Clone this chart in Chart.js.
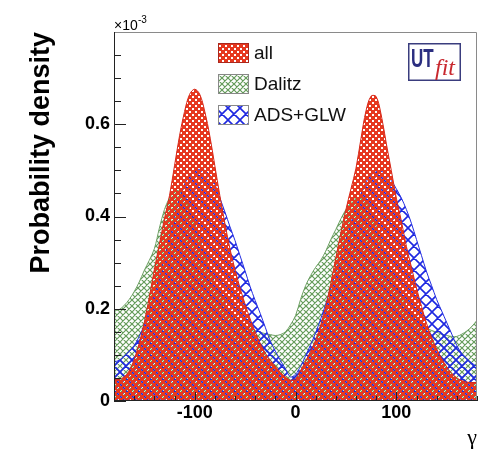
<!DOCTYPE html>
<html><head><meta charset="utf-8">
<script src="https://cdn.jsdelivr.net/npm/chart.js@4.4.1/dist/chart.umd.min.js"></script>
<style>html,body{margin:0;padding:0;background:#fff}canvas{display:block}</style>
</head><body>
<canvas id="c" width="490" height="456"></canvas>
<script>
// gamma (degrees)
const gamma = [-180,-175,-170,-165,-160,-155,-150,-145,-140,-135,-130,-125,-120,-115,-110,-105,-100,-95,-90,-85,-80,-75,-70,-65,-60,-55,-50,-45,-40,-35,-30,-25,-20,-15,-10,-5,0,5,10,15,20,25,30,35,40,45,50,55,60,65,70,75,80,85,90,95,100,105,110,115,120,125,130,135,140,145,150,155,160,165,170,175,180];
// probability density, units of 1e-3
const allValues = [0.046,0.047,0.052,0.065,0.090,0.125,0.170,0.225,0.285,0.340,0.395,0.445,0.510,0.575,0.628,0.665,0.676,0.665,0.628,0.575,0.510,0.445,0.385,0.330,0.285,0.245,0.210,0.178,0.150,0.125,0.104,0.088,0.075,0.062,0.052,0.045,0.048,0.066,0.086,0.108,0.132,0.165,0.205,0.255,0.310,0.365,0.415,0.460,0.505,0.570,0.630,0.661,0.660,0.620,0.559,0.500,0.440,0.390,0.335,0.290,0.245,0.205,0.168,0.138,0.113,0.092,0.074,0.060,0.050,0.044,0.041,0.040,0.040];
const dalitzValues = [0.195,0.198,0.207,0.220,0.237,0.258,0.283,0.305,0.330,0.375,0.415,0.440,0.455,0.455,0.440,0.415,0.385,0.350,0.315,0.285,0.255,0.230,0.210,0.195,0.182,0.172,0.164,0.158,0.153,0.149,0.146,0.144,0.142,0.144,0.150,0.165,0.185,0.220,0.250,0.272,0.290,0.305,0.325,0.350,0.372,0.395,0.415,0.430,0.440,0.440,0.430,0.410,0.380,0.345,0.310,0.278,0.250,0.225,0.205,0.188,0.175,0.165,0.158,0.153,0.149,0.145,0.142,0.140,0.140,0.145,0.152,0.162,0.175];
const adsGlwValues = [0.085,0.088,0.097,0.108,0.120,0.140,0.165,0.195,0.230,0.270,0.310,0.355,0.400,0.440,0.470,0.490,0.500,0.502,0.500,0.490,0.470,0.440,0.410,0.378,0.348,0.315,0.282,0.248,0.218,0.190,0.160,0.130,0.108,0.088,0.070,0.052,0.058,0.075,0.098,0.122,0.148,0.178,0.210,0.245,0.280,0.315,0.350,0.385,0.420,0.450,0.475,0.490,0.497,0.498,0.492,0.478,0.460,0.440,0.415,0.385,0.350,0.315,0.280,0.250,0.220,0.195,0.170,0.145,0.120,0.103,0.092,0.082,0.075];
const seriesLabels = ['all','Dalitz','ADS+GLW'];
const xTickValues = [-100,0,100];
const xMinorTicks = [-180,-160,-140,-120,-80,-60,-40,-20,20,40,60,80,120,140,160,180];
const yTickValues = [0,0.2,0.4,0.6];
const yMinorTicks = [0.05,0.1,0.15,0.25,0.3,0.35,0.45,0.5,0.55,0.65,0.7,0.75];

const cv = document.getElementById('c');
const ctx = cv.getContext('2d');
function makePattern(size, draw){
  const t = document.createElement('canvas'); t.width = t.height = size;
  const g = t.getContext('2d'); draw(g, size);
  return ctx.createPattern(t, 'repeat');
}
function crossHatch(color, lw){
  return (g, s) => {
    g.strokeStyle = color; g.lineWidth = lw; g.beginPath();
    for (let k = -1; k <= 1; k++) {
      g.moveTo(k*s - 2, -2); g.lineTo(k*s + s + 2, s + 2);
      g.moveTo(k*s + s + 2, -2); g.lineTo(k*s - 2, s + 2);
    }
    g.stroke();
  };
}
const redPat = makePattern(6, (g, s) => {
  g.fillStyle = '#e6381f'; g.fillRect(0, 0, s, s);
  g.clearRect(0, 0, 2, 2); g.clearRect(3, 3, 2, 2);
});
const greenPat = makePattern(6, crossHatch('rgb(100,155,90)', 1.2));
const bluePat = makePattern(12, crossHatch('rgb(30,40,225)', 1.6));

const seriesValues = [allValues, dalitzValues, adsGlwValues];
const fills = [redPat, greenPat, bluePat];
const borders = ['rgb(215,40,25)', 'rgb(110,160,100)', 'rgb(35,45,225)'];
const drawOrder = [0, 2, 1];

const datasets = seriesLabels.map((lab, i) => ({
  label: lab,
  data: gamma.map((g, j) => ({x: g, y: seriesValues[i][j]})),
  backgroundColor: fills[i],
  borderColor: borders[i],
  borderWidth: 1,
  fill: 'origin',
  order: drawOrder[i],
  pointRadius: 0,
  tension: 0.35
}));

const FONT = 'Liberation Sans';
const decor = {
  id: 'decor',
  afterDraw(chart){
    const {ctx, chartArea: a, scales: {x, y}} = chart;
    ctx.save();
    // frame
    ctx.lineWidth = 1;
    ctx.strokeStyle = '#8a8a8a';
    ctx.beginPath(); ctx.moveTo(a.left, a.top + 0.5); ctx.lineTo(a.right - 0.5, a.top + 0.5); ctx.lineTo(a.right - 0.5, a.bottom); ctx.stroke();
    ctx.strokeStyle = '#222';
    ctx.beginPath(); ctx.moveTo(a.left + 0.5, a.top); ctx.lineTo(a.left + 0.5, a.bottom - 0.5); ctx.lineTo(a.right, a.bottom - 0.5); ctx.stroke();
    // ticks (inward)
    ctx.strokeStyle = '#222';
    ctx.beginPath();
    yTickValues.concat(yMinorTicks).forEach(v => {
      const py = Math.round(y.getPixelForValue(v)) + 0.5;
      const len = yTickValues.includes(v) ? 12 : 7;
      ctx.moveTo(a.left, py); ctx.lineTo(a.left + len, py);
    });
    xTickValues.concat(xMinorTicks).forEach(v => {
      const px = Math.round(x.getPixelForValue(v)) + 0.5;
      const len = xTickValues.includes(v) ? 9 : 5;
      ctx.moveTo(px, a.bottom); ctx.lineTo(px, a.bottom - len);
    });
    ctx.stroke();
    // exponent
    ctx.fillStyle = '#000'; ctx.textBaseline = 'alphabetic'; ctx.textAlign = 'left';
    ctx.font = '14px ' + FONT; ctx.fillText('\u00d710', a.left, 30);
    ctx.font = '10px ' + FONT; ctx.fillText('-3', a.left + 24, 23);
    // legend
    const boxX = 218, boxW = 31, boxH = 20, centers = [53, 84, 115];
    seriesLabels.forEach((lab, i) => {
      const cy = centers[i];
      ctx.fillStyle = '#fff'; ctx.fillRect(boxX, cy - boxH/2, boxW, boxH);
      ctx.fillStyle = fills[i]; ctx.fillRect(boxX, cy - boxH/2, boxW, boxH);
      ctx.strokeStyle = i === 0 ? 'rgb(170,40,30)' : '#888'; ctx.lineWidth = 1;
      ctx.strokeRect(boxX + 0.5, cy - boxH/2 + 0.5, boxW - 1, boxH - 1);
      ctx.fillStyle = '#111'; ctx.font = '19px ' + FONT; ctx.textBaseline = 'middle';
      ctx.fillText(lab, 254, cy + 1);
    });
    // UTfit logo
    ctx.fillStyle = '#fff'; ctx.fillRect(408, 43, 53, 38);
    ctx.strokeStyle = '#3a3d7e'; ctx.lineWidth = 1.5; ctx.strokeRect(408.75, 43.75, 51.5, 36.5);
    ctx.textBaseline = 'alphabetic';
    ctx.fillStyle = '#2b2e80'; ctx.font = 'bold 25px ' + FONT;
    ctx.save(); ctx.translate(411, 67); ctx.scale(0.68, 1); ctx.fillText('UT', 0, 0); ctx.restore();
    ctx.fillStyle = '#c8282e'; ctx.font = 'italic 24px "Liberation Serif"';
    ctx.fillText('fit', 435, 75);
    ctx.restore();
  }
};

new Chart(ctx, {
  type: 'line',
  data: {datasets},
  plugins: [decor],
  options: {
    responsive: false, animation: false, devicePixelRatio: 1,
    layout: {padding: {left: 0, right: 13, top: 32, bottom: 0}},
    plugins: {legend: {display: false}, tooltip: {enabled: false}},
    scales: {
      x: {
        type: 'linear', min: -180, max: 180,
        afterBuildTicks: s => { s.ticks = xTickValues.map(v => ({value: v})); },
        afterFit: s => { s.height = 55; },
        grid: {display: false, drawTicks: false}, border: {display: false},
        ticks: {padding: 1, color: '#000', autoSkip: false, maxRotation: 0,
          font: {family: FONT, size: 18, weight: 'bold'}, callback: v => String(v)},
        title: {display: true, text: '\u03b3', align: 'end', color: '#000',
          font: {family: 'Liberation Serif', size: 22}, padding: {top: 0, bottom: 5}}
      },
      y: {
        min: 0, max: 0.8,
        afterBuildTicks: s => { s.ticks = yTickValues.map(v => ({value: v})); },
        afterFit: s => { s.width = 114; },
        grid: {display: false, drawTicks: false}, border: {display: false},
        ticks: {padding: 4, color: '#000', font: {family: FONT, size: 18, weight: 'bold'},
          callback: v => String(v)},
        title: {display: true, text: 'Probability density', align: 'end', color: '#000',
          font: {family: FONT, size: 27, weight: 'bold'}, padding: {top: 25, bottom: 0}}
      }
    }
  }
});
</script>
</body></html>
